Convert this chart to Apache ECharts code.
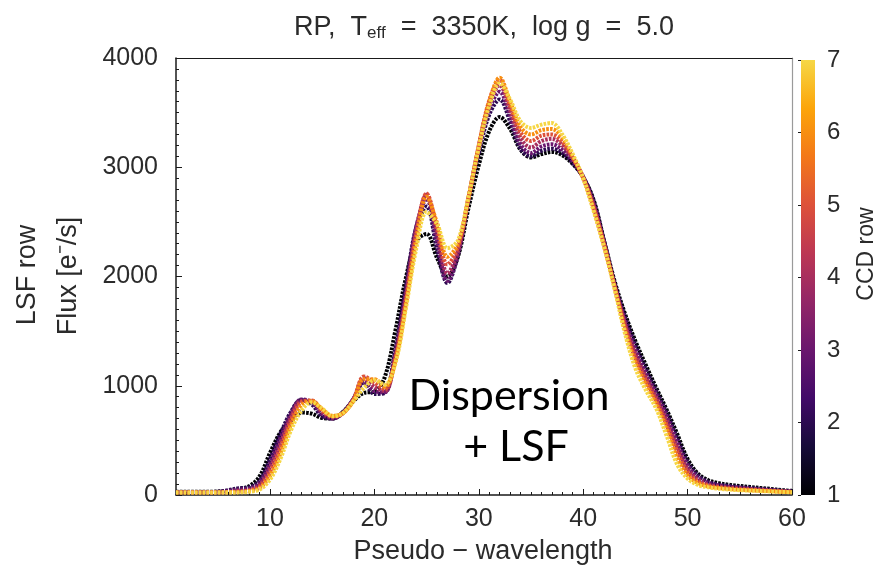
<!DOCTYPE html>
<html>
<head>
<meta charset="utf-8">
<script src="https://cdn.jsdelivr.net/npm/echarts@6/dist/echarts.min.js"></script>
<style>
  html, body { margin: 0; padding: 0; background: #ffffff; }
  #chart { width: 889px; height: 572px; }
</style>
</head>
<body>
<div id="chart"></div>
<script>
// Pseudo-wavelength samples shared by every CCD row
const pseudoWavelength = [1,2,3,4,5,6,7,8,9,10,11,12,13,14,15,16,17,18,19,20,21,22,23,24,25,26,27,28,29,30,31,32,33,34,35,36,37,38,39,40,41,42,43,44,45,46,47,48,49,50,51,52,53,54,55,56,57,58,59,60];

// CCD rows shown on the colour bar
const ccdRows = [1, 2, 3, 4, 5, 6, 7];

// LSF-row flux [e-/s] for each CCD row
const fluxRow1 = [30,30,30,30,32,40,55,80,170,385,575,680,755,745,705,700,760,860,935,945,1080,1500,1980,2320,2390,2170,2000,2180,2620,3020,3330,3460,3350,3160,3090,3120,3140,3110,3030,2910,2700,2330,1960,1660,1410,1190,980,780,560,330,195,135,108,93,83,73,64,55,45,38];
const fluxRow2 = [28,28,28,28,30,45,62,70,130,330,560,760,870,830,720,700,760,880,1030,925,935,1330,1900,2450,2640,2250,1940,2200,2700,3130,3480,3620,3420,3170,3100,3150,3170,3130,3040,2910,2690,2320,1940,1630,1370,1150,950,750,520,300,180,120,95,82,72,64,56,48,40,34];
const fluxRow3 = [27,27,27,27,28,36,50,58,110,290,520,740,875,850,740,700,750,880,1040,950,940,1290,1850,2450,2710,2320,1960,2200,2710,3170,3530,3690,3470,3210,3130,3190,3210,3160,3060,2910,2670,2310,1930,1600,1330,1110,920,720,480,270,160,110,88,76,66,58,51,44,37,32];
const fluxRow4 = [26,26,26,26,26,28,36,45,90,250,470,710,860,860,760,710,750,880,1070,990,950,1260,1800,2420,2750,2400,2030,2230,2710,3190,3580,3750,3520,3270,3180,3240,3260,3200,3080,2910,2650,2300,1920,1570,1290,1080,890,680,440,240,140,95,78,68,60,53,47,41,35,30];
const fluxRow5 = [25,25,25,25,25,26,30,40,75,210,430,680,850,865,775,720,750,870,1085,1030,970,1240,1760,2380,2760,2450,2110,2270,2710,3200,3610,3800,3560,3320,3240,3290,3300,3230,3090,2900,2630,2290,1910,1540,1250,1050,860,640,400,210,125,85,70,60,53,47,42,37,32,28];
const fluxRow6 = [24,24,24,24,24,25,27,35,62,175,380,640,820,860,785,725,750,865,1060,1060,990,1220,1730,2320,2730,2490,2180,2300,2720,3190,3600,3820,3600,3370,3300,3340,3350,3270,3100,2900,2610,2280,1900,1510,1210,1010,830,600,340,180,110,78,64,55,48,43,39,35,30,26];
const fluxRow7 = [22,22,22,22,22,23,24,30,50,140,330,590,770,850,790,720,750,860,980,1050,1010,1200,1700,2250,2590,2480,2260,2330,2720,3180,3560,3770,3620,3420,3360,3390,3405,3300,3120,2900,2600,2270,1890,1480,1160,960,790,540,280,150,92,70,58,50,44,40,36,32,28,25];

const fluxByRow = [fluxRow1, fluxRow2, fluxRow3, fluxRow4, fluxRow5, fluxRow6, fluxRow7];

// Axis tick positions
const xMajorTicks = [10, 20, 30, 40, 50, 60];
const xMinorTicks = [];
for (let v = 1; v <= 60; v++) xMinorTicks.push(v);

// Inferno colour map (truncated before the palest end)
const inferno = [
  [0.0, '#000004'], [0.1, '#160b39'], [0.2, '#420a68'], [0.3, '#6a176e'],
  [0.4, '#932667'], [0.5, '#bc3754'], [0.6, '#dd513a'], [0.7, '#f37819'],
  [0.8, '#fca50a'], [0.9, '#f6d746']
];
const cmapTop = 0.9;

function hexToRgb(h) {
  return [parseInt(h.slice(1, 3), 16), parseInt(h.slice(3, 5), 16), parseInt(h.slice(5, 7), 16)];
}
function infernoAt(t) {
  t = Math.max(0, Math.min(cmapTop, t));
  for (let i = 0; i < inferno.length - 1; i++) {
    const [t0, c0] = inferno[i];
    const [t1, c1] = inferno[i + 1];
    if (t <= t1) {
      const f = (t - t0) / (t1 - t0);
      const a = hexToRgb(c0), b = hexToRgb(c1);
      const c = a.map((v, k) => Math.round(v + (b[k] - v) * f));
      return 'rgb(' + c.join(',') + ')';
    }
  }
  return inferno[inferno.length - 1][1];
}
function rowColor(row) {
  const lo = ccdRows[0], hi = ccdRows[ccdRows.length - 1];
  return infernoAt((row - lo) / (hi - lo) * cmapTop);
}

const FONT = 'Liberation Sans';
const TEXT = '#2b2b2b';
const plainNumber = v => String(v);

const lineSeries = ccdRows.map((row, r) => ({
  type: 'line',
  name: 'CCD row ' + row,
  xAxisIndex: 0,
  yAxisIndex: 0,
  smooth: 0.35,
  showSymbol: false,
  silent: true,
  z: 2 + r,
  lineStyle: { color: rowColor(row), width: 4, type: [2.6, 1.2] },
  data: pseudoWavelength.map((x, i) => [x, fluxByRow[r][i]])
}));

// Colour bar drawn as a gradient block on its own axis
const colorBarSeries = {
  type: 'custom',
  xAxisIndex: 3,
  yAxisIndex: 2,
  silent: true,
  data: [[0, ccdRows[0], ccdRows[ccdRows.length - 1]]],
  renderItem: function (params, api) {
    const p0 = api.coord([0, api.value(2)]);
    const p1 = api.coord([1, api.value(1)]);
    const stops = inferno.map(([t, c]) => ({ offset: 1 - t / cmapTop, color: c }));
    stops.reverse();
    return {
      type: 'rect',
      shape: { x: p0[0], y: p0[1], width: p1[0] - p0[0], height: p1[1] - p0[1] },
      style: { fill: new echarts.graphic.LinearGradient(0, 0, 0, 1, stops) }
    };
  }
};

const chart = echarts.init(document.getElementById('chart'), null, { renderer: 'canvas' });

chart.setOption({
  animation: false,
  backgroundColor: '#ffffff',
  textStyle: { fontFamily: FONT },
  grid: [
    { left: 176, right: 97, top: 58, bottom: 77 },
    { left: 801, width: 14, top: 60, bottom: 77 }
  ],
  xAxis: [
    {
      gridIndex: 0, type: 'value', min: 1, max: 60, position: 'bottom',
      axisLine: { show: true, lineStyle: { color: '#1a1a1a', width: 1.5 } },
      axisTick: { show: true, inside: true, length: 6, customValues: xMajorTicks, lineStyle: { color: '#1a1a1a' } },
      axisLabel: { show: true, customValues: xMajorTicks, margin: 12, fontSize: 25, color: TEXT, fontFamily: FONT, formatter: plainNumber },
      splitLine: { show: false }
    },
    {
      gridIndex: 0, type: 'value', min: 1, max: 60, position: 'bottom',
      axisLine: { show: false },
      axisTick: { show: true, inside: true, length: 3, customValues: xMinorTicks, lineStyle: { color: '#1a1a1a' } },
      axisLabel: { show: false },
      splitLine: { show: false }
    },
    {
      gridIndex: 0, type: 'value', min: 1, max: 60, position: 'top',
      axisLine: { show: true, lineStyle: { color: '#1a1a1a', width: 1.2 } },
      axisTick: { show: false }, axisLabel: { show: false }, splitLine: { show: false }
    },
    {
      gridIndex: 1, type: 'value', min: 0, max: 1, show: false
    }
  ],
  yAxis: [
    {
      gridIndex: 0, type: 'value', min: 0, max: 4000, interval: 1000, position: 'left',
      axisLine: { show: true, lineStyle: { color: '#1a1a1a', width: 1.5 } },
      axisTick: { show: true, inside: true, length: 6, lineStyle: { color: '#1a1a1a' } },
      minorTick: { show: true, splitNumber: 10, length: 3, lineStyle: { color: '#1a1a1a' } },
      axisLabel: { margin: 18, fontSize: 25, color: TEXT, fontFamily: FONT, formatter: plainNumber },
      splitLine: { show: false }
    },
    {
      gridIndex: 0, type: 'value', min: 0, max: 4000, position: 'right',
      axisLine: { show: true, lineStyle: { color: '#9a9a9a', width: 1.2 } },
      axisTick: { show: false }, axisLabel: { show: false }, splitLine: { show: false }
    },
    {
      gridIndex: 1, type: 'value', min: 1, max: 7, interval: 1, position: 'right',
      axisLine: { show: false },
      axisTick: { show: true, inside: true, length: 3, lineStyle: { color: '#1a1a1a' } },
      axisLabel: { margin: 12, fontSize: 24, color: TEXT, fontFamily: FONT, formatter: plainNumber },
      splitLine: { show: false }
    }
  ],
  graphic: [
    {
      type: 'text', x: 484, y: 28,
      style: {
        text: '{m|RP,  T}{s|eff}{m|  =  3350K,  log g  =  5.0}',
        textAlign: 'center', textVerticalAlign: 'middle',
        rich: {
          m: { fontSize: 27, fontFamily: FONT, fill: TEXT },
          s: { fontSize: 17, fontFamily: FONT, fill: TEXT, padding: [11, 0, 0, 0] }
        }
      }
    },
    {
      type: 'text', x: 483, y: 552,
      style: { text: 'Pseudo − wavelength', fontSize: 27, fontFamily: FONT, fill: TEXT, textAlign: 'center', textVerticalAlign: 'middle' }
    },
    {
      type: 'text', x: 28, y: 275, rotation: Math.PI / 2,
      style: { text: 'LSF row', fontSize: 27, fontFamily: FONT, fill: TEXT, textAlign: 'center', textVerticalAlign: 'middle' }
    },
    {
      type: 'text', x: 69, y: 276, rotation: Math.PI / 2,
      style: { text: 'Flux [e⁻/s]', fontSize: 27, fontFamily: FONT, fill: TEXT, textAlign: 'center', textVerticalAlign: 'middle' }
    },
    {
      type: 'text', x: 867, y: 254, rotation: Math.PI / 2,
      style: { text: 'CCD row', fontSize: 23, fontFamily: FONT, fill: TEXT, textAlign: 'center', textVerticalAlign: 'middle' }
    },
    {
      type: 'text', x: 509, y: 396, z: 100,
      style: { text: 'Dispersion', fontSize: 43, fontFamily: 'Lato', fill: '#000000', textAlign: 'center', textVerticalAlign: 'middle' }
    },
    {
      type: 'text', x: 516, y: 447, z: 100,
      style: { text: '+ LSF', fontSize: 43, fontFamily: 'Lato', fill: '#000000', textAlign: 'center', textVerticalAlign: 'middle' }
    }
  ],
  series: lineSeries.concat([colorBarSeries])
});
</script>
</body>
</html>
